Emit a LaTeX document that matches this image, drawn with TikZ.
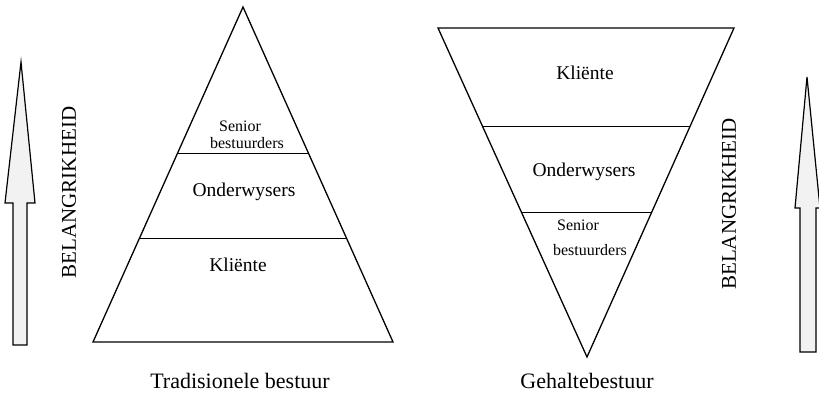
\documentclass[tikz,border=0pt]{standalone}
\usepackage{fontspec}
\setmainfont{Liberation Serif}
\usetikzlibrary{calc}
\begin{document}
\begin{tikzpicture}[x=1pt,y=-1pt,
  edge/.style={line width=1.3pt,line join=miter},
  band/.style={line width=1pt},
  lbl/.style={font=\fontsize{19.5}{21}\selectfont,inner sep=0pt},
  sml/.style={font=\fontsize{16}{17}\selectfont,inner sep=0pt},
  ttl/.style={font=\fontsize{22}{24}\selectfont,inner sep=0pt,anchor=base},
  vert/.style={font=\fontsize{21}{23}\selectfont,inner sep=0pt,rotate=90},
  bigarrow/.style={line width=1.2pt,fill=gray!10,line join=miter}]
\useasboundingbox (0,0) rectangle (819,395);
% left arrow
\draw[bigarrow] (21,62) -- (35,203) -- (27,203) -- (27,345) -- (13,345) -- (13,203) -- (5,203) -- cycle;
\node[vert] (lb) at (69,192.5) {BELANGRIKHEID};
% left triangle
\coordinate (A) at (243,7);
\coordinate (B) at (93,342);
\coordinate (C) at (393,342);
\draw[edge] (A) -- (B) -- (C) -- cycle;
\draw[band] ($(A)!0.4388!(B)$) -- ($(A)!0.4388!(C)$);
\draw[band] ($(A)!0.6925!(B)$) -- ($(A)!0.6925!(C)$);
\node[sml] (s1) at (240,126) {Senior};
\node[sml] (b1) at (247,143) {bestuurders};
\node[lbl] (o1) at (244,192) {Onderwysers};
\node[lbl] (k1) at (238,265) {Kliënte};
\node[ttl] (t1) at (240,388) {Tradisionele bestuur};
% right triangle
\coordinate (D) at (438,28);
\coordinate (E) at (734,28);
\coordinate (F) at (587,357);
\draw[edge] (D) -- (E) -- (F) -- cycle;
\draw[band] ($(D)!0.3009!(F)$) -- ($(E)!0.3009!(F)$);
\draw[band] ($(D)!0.5593!(F)$) -- ($(E)!0.5593!(F)$);
\node[lbl] (k2) at (585,73) {Kliënte};
\node[lbl] (o2) at (584,172) {Onderwysers};
\node[sml] (s2) at (578,225) {Senior};
\node[sml] (b2) at (590,250) {bestuurders};
\node[ttl] (t2) at (587,388) {Gehaltebestuur};
% right arrow
\node[vert] (rb) at (729,204) {BELANGRIKHEID};
\draw[bigarrow] (807,77) -- (820,208) -- (816,208) -- (816,352) -- (800,352) -- (800,208) -- (795,208) -- cycle;
\end{tikzpicture}
\end{document}
